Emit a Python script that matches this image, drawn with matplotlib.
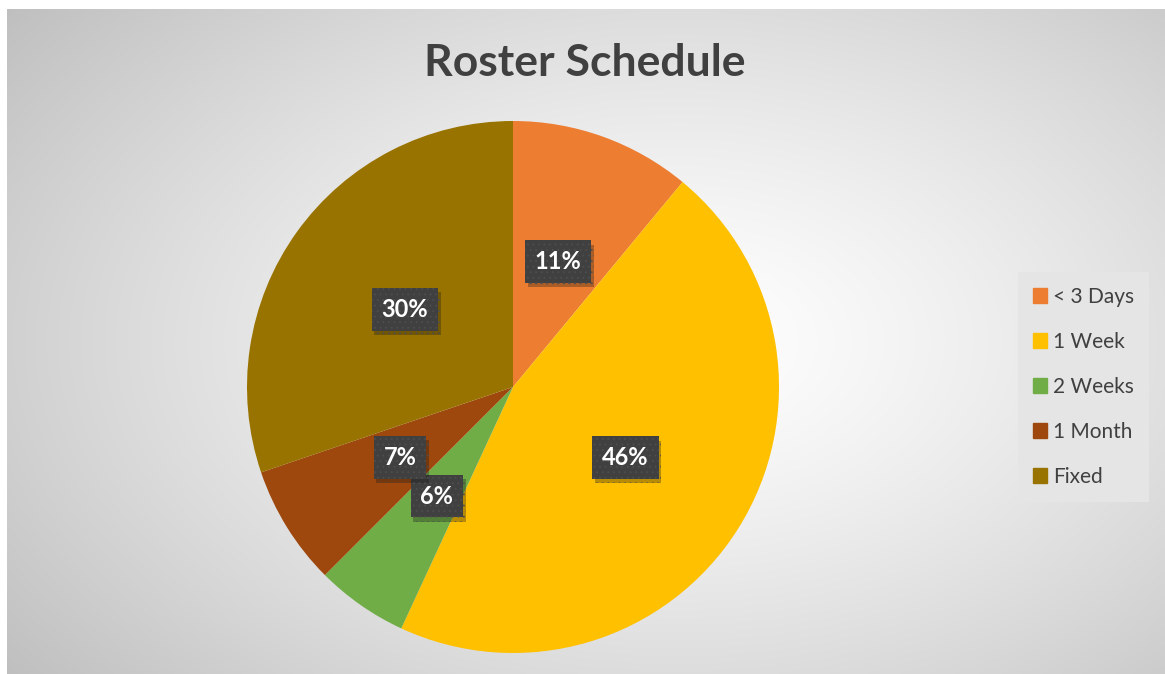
import numpy as np
import matplotlib.pyplot as plt
import matplotlib.patches as mpatches
import matplotlib.patheffects as pe

plt.rcParams['font.family'] = ['Lato', 'DejaVu Sans']

labels = ['< 3 Days', '1 Week', '2 Weeks', '1 Month', 'Fixed']
values = [11.0, 45.9, 5.6, 7.3, 30.2]
colors = ['#ED7D31', '#FFC000', '#70AD47', '#9E480E', '#997300']

W, H = 1165, 674
fig = plt.figure(figsize=(W / 100, H / 100), dpi=100)
fig.patch.set_facecolor('white')

# background with radial gradient
bg = fig.add_axes([7 / W, 0, 1 - 7 / W, 1 - 9 / H])
xx, yy = np.meshgrid(np.linspace(0, 1, 400), np.linspace(0, 1, 240))
d = np.sqrt(((xx - 0.58) / 0.55) ** 2 + ((yy - 0.5) / 0.6) ** 2)
g = np.clip(1.0 - 0.17 * d ** 1.3, 0, 1)
bg.imshow(np.dstack([g, g, g]), aspect='auto', extent=[0, 1, 0, 1])
bg.axis('off')

# pie
cx, cy, r = 513, 387, 266
ax = fig.add_axes([(cx - r) / W, (H - cy - r) / H, 2 * r / W, 2 * r / H])
wedges, texts, autotexts = ax.pie(values, colors=colors, startangle=90, counterclock=False,
                                  autopct='%1.0f%%', pctdistance=0.5,
                                  wedgeprops=dict(linewidth=0),
                                  textprops=dict(color='white', fontsize=17, fontweight='bold'))
ax.set_xlim(-1, 1)
ax.set_ylim(-1, 1)

plt.rcParams['hatch.linewidth'] = 0.6
for t in autotexts:
    t.set_bbox(dict(boxstyle='square,pad=0.42', fc='#404040', ec='#4e4e4e', lw=0, hatch='...'))
    t.get_bbox_patch().set_path_effects([pe.SimplePatchShadow(offset=(2, -3), alpha=0.3), pe.Normal()])

# title
fig.text(585 / W, 1 - 63 / H, 'Roster Schedule', ha='center', va='center',
         fontsize=32, fontweight='bold', color='#404040')

# legend
handles = [mpatches.Patch(color=c, label=l) for c, l in zip(colors, labels)]
leg = fig.legend(handles=handles, loc='center left', bbox_to_anchor=(1018 / W, 1 - 387 / H),
                 frameon=True, fontsize=15, labelspacing=1.2, handlelength=0.7, handleheight=0.7,
                 handletextpad=0.3, borderpad=0.7, borderaxespad=0, fancybox=False,
                 labelcolor='#404040')
leg.get_frame().set_facecolor('#e5e5e5')
leg.get_frame().set_edgecolor('none')
leg.get_frame().set_alpha(1)

fig.savefig('out.png', dpi=100)
